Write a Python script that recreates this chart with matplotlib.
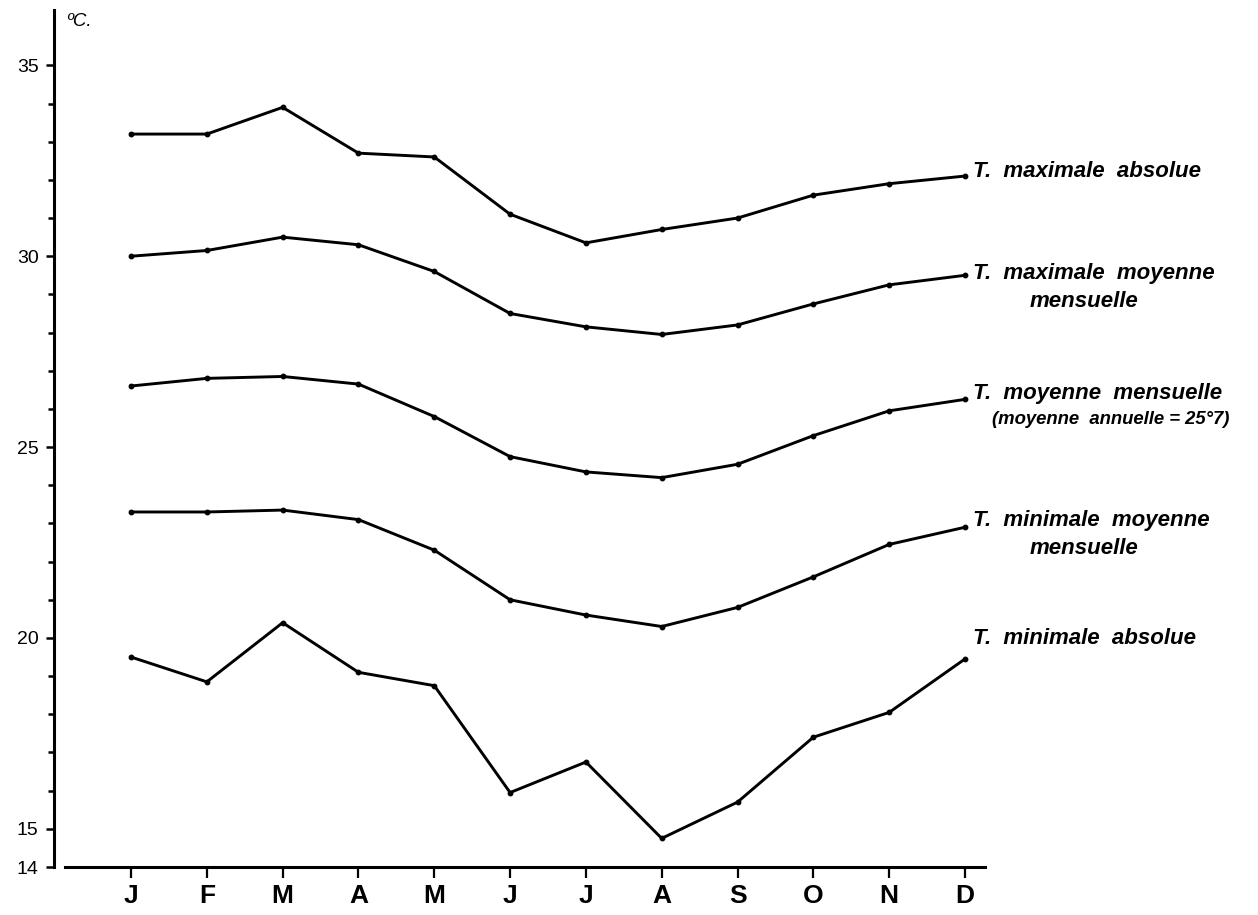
import matplotlib
matplotlib.use("Agg")
import matplotlib.pyplot as plt
from matplotlib.ticker import FixedLocator

plt.rcParams['font.family'] = ['Liberation Sans', 'DejaVu Sans']

# ---- data ----
months = ['J', 'F', 'M', 'A', 'M', 'J', 'J', 'A', 'S', 'O', 'N', 'D']
t_max_abs = [33.2, 33.2, 33.9, 32.7, 32.6, 31.1, 30.35, 30.7, 31.0, 31.6, 31.9, 32.1]
t_max_moy = [30.0, 30.15, 30.5, 30.3, 29.6, 28.5, 28.15, 27.95, 28.2, 28.75, 29.25, 29.5]
t_moy = [26.6, 26.8, 26.85, 26.65, 25.8, 24.75, 24.35, 24.2, 24.55, 25.3, 25.95, 26.25]
t_min_moy = [23.3, 23.3, 23.35, 23.1, 22.3, 21.0, 20.6, 20.3, 20.8, 21.6, 22.45, 22.9]
t_min_abs = [19.5, 18.85, 20.4, 19.1, 18.75, 15.95, 16.75, 14.75, 15.7, 17.4, 18.05, 19.45]

series = [t_max_abs, t_max_moy, t_moy, t_min_moy, t_min_abs]
labels_main = ['T.  maximale  absolue', 'T.  maximale  moyenne', 'T.  moyenne  mensuelle',
               'T.  minimale  moyenne', 'T.  minimale  absolue']
labels_sub = [None, 'mensuelle', '(moyenne  annuelle = 25°7)', 'mensuelle', None]

y_major = [14, 15, 20, 25, 30, 35]
y_minor = [16, 17, 18, 19, 21, 22, 23, 24, 26, 27, 28, 29, 31, 32, 33, 34]
unit_label = 'ºC.'

# ---- figure ----
W, H = 1258, 915
fig = plt.figure(figsize=(W / 100, H / 100), dpi=100)
left_px, right_px, bottom_px, top_px = 54, 985, 867, 10
ax = fig.add_axes([left_px / W, (H - bottom_px) / H,
                   (right_px - left_px) / W, (bottom_px - top_px) / H])

x = list(range(len(months)))
for vals in series:
    ax.plot(x, vals, color='black', lw=2.1, marker='o', ms=3.2,
            solid_joinstyle='round', clip_on=False)

ax.set_xlim(-1.016, 11.264)
ax.set_ylim(14, 36.45)

for s in ['top', 'right']:
    ax.spines[s].set_visible(False)
ax.spines['left'].set_linewidth(2.2)
ax.spines['bottom'].set_linewidth(2.2)
ax.spines['bottom'].set_bounds(-0.87, 11.264)

ax.set_xticks(x)
ax.set_xticklabels(months, fontsize=19, fontweight='bold')
ax.tick_params(axis='x', direction='out', length=8, width=1.6, pad=4)

ax.yaxis.set_major_locator(FixedLocator(y_major))
ax.yaxis.set_minor_locator(FixedLocator(y_minor))
ax.set_yticklabels([str(v) for v in y_major], fontsize=14)
ax.tick_params(axis='y', which='major', direction='out', length=6, width=1.8, pad=5)
ax.tick_params(axis='y', which='minor', direction='out', length=4, width=1.8)

fig.text(66 / W, 1 - 22 / H, unit_label, fontsize=13.5, fontstyle='italic',
         ha='left', va='center')

main_dy = [3.6, 1.4, 4.3, 5.0, 15.0]
for vals, lm, ls, dy in zip(series, labels_main, labels_sub, main_dy):
    ax.annotate(lm, xy=(x[-1], vals[-1]), xytext=(6, dy), textcoords='offset points',
                ha='left', va='center', fontsize=16, fontstyle='italic',
                fontweight='bold', annotation_clip=False)
    if ls is not None:
        if ls.startswith('('):
            ax.annotate(ls, xy=(x[-1], vals[-1]), xytext=(105, dy - 19),
                        textcoords='offset points', ha='center', va='center',
                        fontsize=13.3, fontstyle='italic', fontweight='bold',
                        annotation_clip=False)
        else:
            ax.annotate(ls, xy=(x[-1], vals[-1]), xytext=(86, dy - 20),
                        textcoords='offset points', ha='center', va='center',
                        fontsize=16, fontstyle='italic', fontweight='bold',
                        annotation_clip=False)

fig.savefig('out.png', dpi=100, facecolor='white')
